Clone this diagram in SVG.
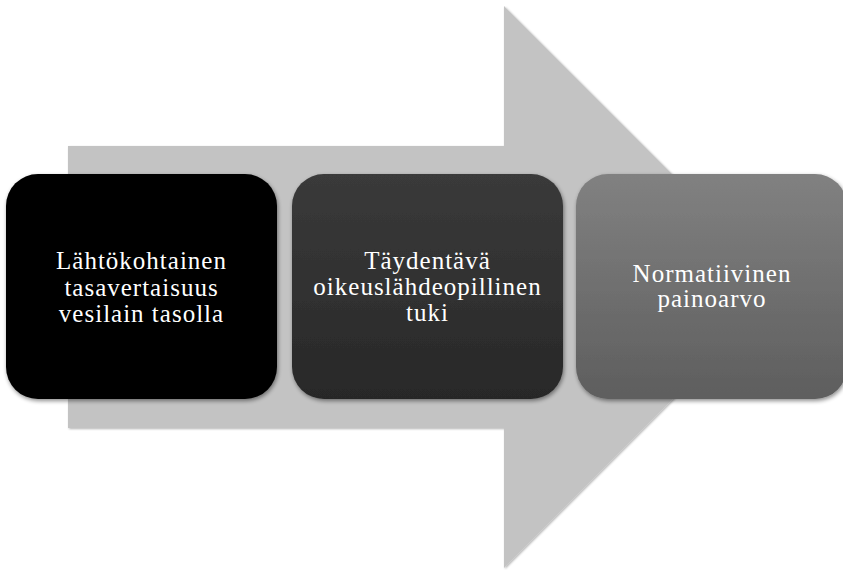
<svg xmlns="http://www.w3.org/2000/svg" width="843" height="570" viewBox="0 0 843 570">
  <defs>
    <filter id="shadow" x="-10%" y="-10%" width="130%" height="130%">
      <feGaussianBlur in="SourceAlpha" stdDeviation="2"/>
      <feOffset dx="1" dy="2" result="b"/>
      <feComponentTransfer><feFuncA type="linear" slope="0.45"/></feComponentTransfer>
      <feMerge><feMergeNode/><feMergeNode in="SourceGraphic"/></feMerge>
    </filter>
    <filter id="arrowShadow" x="-5%" y="-5%" width="110%" height="110%">
      <feGaussianBlur in="SourceAlpha" stdDeviation="1.2"/>
      <feOffset dx="0.5" dy="1" result="b"/>
      <feComponentTransfer><feFuncA type="linear" slope="0.3"/></feComponentTransfer>
      <feMerge><feMergeNode/><feMergeNode in="SourceGraphic"/></feMerge>
    </filter>
    <linearGradient id="g1" x1="0" y1="0" x2="0" y2="1">
      <stop offset="0" stop-color="#000000"/>
      <stop offset="1" stop-color="#000000"/>
    </linearGradient>
    <linearGradient id="g2" x1="0" y1="0" x2="0" y2="1">
      <stop offset="0" stop-color="#3a3a3a"/>
      <stop offset="1" stop-color="#282828"/>
    </linearGradient>
    <linearGradient id="g3" x1="0" y1="0" x2="0" y2="1">
      <stop offset="0" stop-color="#818181"/>
      <stop offset="1" stop-color="#5e5e5e"/>
    </linearGradient>
  </defs>
  <style>
    .box { filter: url(#shadow); }
    .label { font-family: "Liberation Serif", "DejaVu Serif", serif; font-size: 25px; fill: #ffffff; text-anchor: middle; letter-spacing: 1px; }
  </style>

  <!-- background process arrow -->
  <g id="arrow">
    <polygon points="68,146 504,146 504,6 785,287 504,568 504,428 68,428" fill="#c3c3c3" filter="url(#arrowShadow)"/>
  </g>

  <g id="step1">
    <rect class="box" x="6" y="174" width="271" height="225" rx="32" ry="32" fill="url(#g1)"/>
    <text class="label" x="141.5"><tspan x="141.5" y="269">Lähtökohtainen</tspan><tspan x="141.5" y="296">tasavertaisuus</tspan><tspan x="141.5" y="322">vesilain tasolla</tspan></text>
  </g>

  <g id="step2">
    <rect class="box" x="292" y="174" width="271" height="225" rx="32" ry="32" fill="url(#g2)"/>
    <text class="label" x="427.5"><tspan x="427.5" y="269">Täydentävä</tspan><tspan x="427.5" y="295">oikeuslähdeopillinen</tspan><tspan x="427.5" y="321">tuki</tspan></text>
  </g>

  <g id="step3">
    <rect class="box" x="576" y="174" width="271" height="225" rx="32" ry="32" fill="url(#g3)"/>
    <text class="label" x="712"><tspan x="712" y="282">Normatiivinen</tspan><tspan x="712" y="307">painoarvo</tspan></text>
  </g>

  <g id="connectors"/>
</svg>
